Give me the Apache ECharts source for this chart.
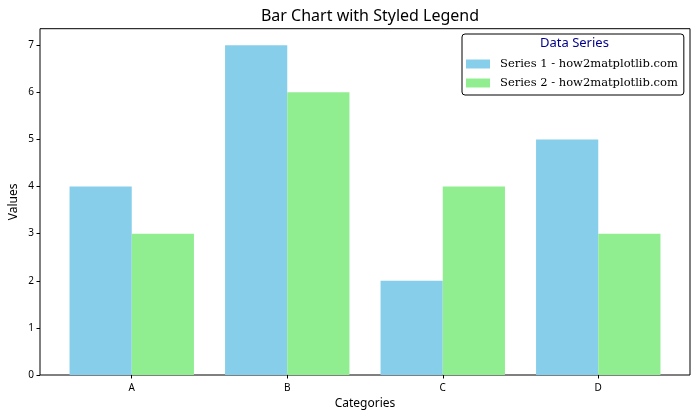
<!DOCTYPE html>
<html>
<head>
<meta charset="utf-8">
<script src="https://cdn.jsdelivr.net/npm/echarts@6/dist/echarts.min.js"></script>
<style>html,body{margin:0;padding:0;background:#fff}#c{width:700px;height:420px}</style>
</head>
<body>
<div id="c"></div>
<script>
const categories = ['A', 'B', 'C', 'D'];
const series1 = [4, 7, 2, 5];
const series2 = [3, 6, 4, 3];
const yTicks = [0, 1, 2, 3, 4, 5, 6, 7];
const seriesNames = ['Series 1 - how2matplotlib.com', 'Series 2 - how2matplotlib.com'];
const titleText = 'Bar Chart with Styled Legend';
const legendTitle = 'Data Series';
const xName = 'Categories';
const yName = 'Values';

const SANS = '"Noto Sans", "Open Sans", sans-serif';
const SERIF = '"DejaVu Serif", serif';
// frame (axes box) in px
const F = { left: 40, right: 690, top: 28.7, bottom: 375 };
// category band width: xlim = [-0.59, 3.59] → 4.18 units
const unit = (F.right - F.left) / 4.18;
const gridLeft = F.left + 0.09 * unit;
const gridRight = 700 - (F.right - 0.09 * unit);

const chart = echarts.init(document.getElementById('c'), null, { renderer: 'canvas' });
chart.setOption({
  animation: false,
  backgroundColor: '#fff',
  title: {
    text: titleText, left: (F.left + F.right) / 2, top: 3, textAlign: 'center',
    textStyle: { fontFamily: SANS, fontSize: 16, fontWeight: 'normal', color: '#000' }
  },
  grid: { left: gridLeft, right: gridRight, top: F.top, bottom: 420 - F.bottom, containLabel: false, outerBoundsMode: 'none' },
  xAxis: {
    type: 'category', data: categories,
    axisLine: { show: false },
    axisTick: { show: true, alignWithLabel: true, length: 3.5, lineStyle: { color: '#000' } },
    axisLabel: { fontFamily: SANS, fontSize: 10, color: '#000', margin: 8 },
    name: xName, nameLocation: 'middle', nameGap: 23,
    nameTextStyle: { fontFamily: SANS, fontSize: 12, color: '#000' }
  },
  yAxis: {
    type: 'value', min: 0, max: 7.35, interval: 1,
    offset: gridLeft - F.left,
    axisLine: { show: false },
    splitLine: { show: false },
    axisTick: { show: true, length: 3.5, customValues: yTicks, lineStyle: { color: '#000' } },
    axisLabel: { fontFamily: SANS, fontSize: 10, color: '#000', margin: 6, customValues: yTicks },
    name: yName, nameLocation: 'middle', nameGap: 20, nameRotate: 90, nameMoveOverlap: false,
    nameTextStyle: { fontFamily: SANS, fontSize: 12, color: '#000' }
  },
  legend: {
    orient: 'vertical', left: 462, top: 34,
    data: seriesNames,
    itemWidth: 24, itemHeight: 9, itemGap: 7,
    padding: [24, 6, 6, 4],
    backgroundColor: '#fff', borderColor: '#000', borderWidth: 1, borderRadius: 3,
    textStyle: { fontFamily: SERIF, fontSize: 11.5, color: '#000', padding: [0, 0, 0, 5] },
    icon: 'rect'
  },
  graphic: [
    { type: 'rect', silent: true, z: 0,
      shape: { x: F.left, y: F.top, width: F.right - F.left, height: F.bottom - F.top },
      style: { fill: 'none', stroke: '#000', lineWidth: 1 } },
    { type: 'text', z: 100, left: 540, top: 37,
      style: { text: legendTitle, fontFamily: SANS, fontSize: 13, fill: '#00008B' } }
  ],
  series: [
    { name: seriesNames[0], type: 'bar', data: series1, barWidth: '40%', barGap: '0%',
      itemStyle: { color: '#87CEEB' } },
    { name: seriesNames[1], type: 'bar', data: series2, barWidth: '40%', barGap: '0%',
      itemStyle: { color: '#90EE90' } }
  ]
});
</script>
</body>
</html>
